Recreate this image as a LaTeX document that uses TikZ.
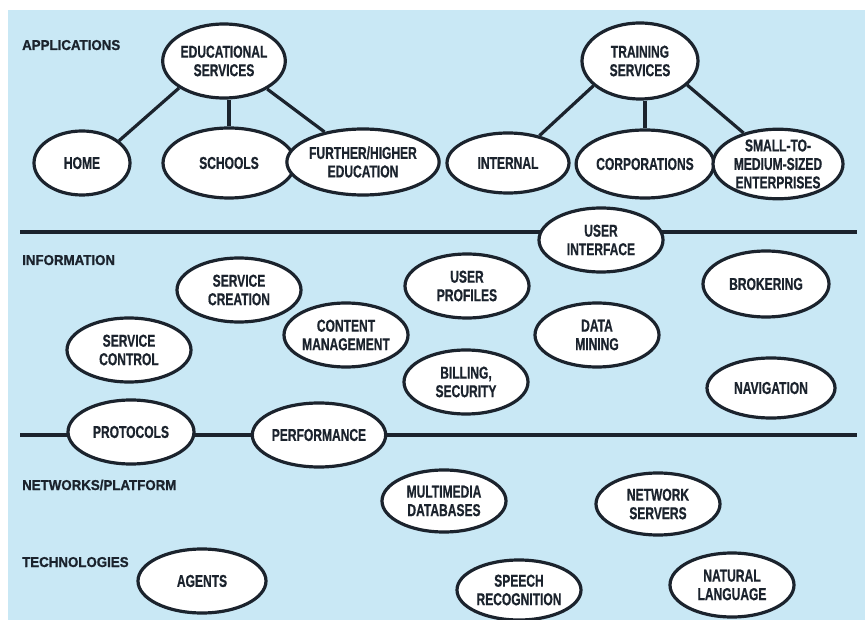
\documentclass[tikz,border=0pt]{standalone}
\usepackage{fontspec}
\setmainfont{Liberation Sans}
\newfontfamily\lblfont[FakeStretch=0.7,FakeBold=0.6]{Liberation Sans}
\newfontfamily\headfont[FakeStretch=0.93,FakeBold=1.0]{Liberation Sans}
\usetikzlibrary{shapes.geometric}
\definecolor{paper}{HTML}{C9E8F5}
\definecolor{ink}{HTML}{1B232D}
\pgfdeclarelayer{backmost}
\pgfdeclarelayer{back}
\pgfsetlayers{backmost,back,main}
\tikzset{
  bubble/.style={ellipse, draw=ink, fill=white, line width=3.2pt, inner sep=0pt,
    text=ink, align=center, font=\lblfont\bfseries\fontsize{17.2}{18.5}\selectfont},
  heading/.style={anchor=base west, inner sep=0pt, text=ink,
    font=\headfont\bfseries\fontsize{14.3}{16}\selectfont},
  link/.style={draw=ink, line width=3.2pt},
  rule/.style={draw=ink, line width=3.4pt}
}
\begin{document}
\begin{tikzpicture}[x=1pt,y=-1pt]
% page and tinted panel
\useasboundingbox (0,0) rectangle (865,620);
\begin{pgfonlayer}{backmost}
  \fill[white] (0,0) rectangle (865,620);
  \fill[paper] (8,10) rectangle (865,620);
\end{pgfonlayer}

% layer headings
\node[heading] (hApp)  at (22,50)  {APPLICATIONS};
\node[heading] (hInf)  at (22,265) {INFORMATION};
\node[heading] (hNet)  at (22,490) {NETWORKS/PLATFORM};
\node[heading] (hTech) at (22,567) {TECHNOLOGIES};

% applications
\node[bubble, minimum width=114pt, minimum height=74pt] (edu)      at (224,61)  {EDUCATIONAL\\SERVICES};
\node[bubble, minimum width=96pt,  minimum height=64pt] (home)     at (82,163)  {HOME};
\node[bubble, minimum width=132pt, minimum height=70pt] (schools)  at (229,163) {SCHOOLS};
\node[bubble, minimum width=122pt, minimum height=66pt] (further)  at (363,162) {FURTHER/HIGHER\\EDUCATION};
\node[bubble, minimum width=116pt, minimum height=76pt] (training) at (640,61)  {TRAINING\\SERVICES};
\node[bubble, minimum width=122pt, minimum height=60pt] (internal) at (508,163) {INTERNAL};
\node[bubble, minimum width=124pt, minimum height=68pt] (corp)     at (645,164) {CORPORATIONS};
\node[bubble, minimum width=130pt, minimum height=66pt] (sme)      at (778,164) {SMALL-TO-\\MEDIUM-SIZED\\ENTERPRISES};

% information
\node[bubble, minimum width=124pt, minimum height=64pt] (userif)     at (601,240) {USER\\INTERFACE};
\node[bubble, minimum width=124pt, minimum height=64pt] (screation)  at (239,290) {SERVICE\\CREATION};
\node[bubble, minimum width=124pt, minimum height=64pt] (scontrol)   at (129,350) {SERVICE\\CONTROL};
\node[bubble, minimum width=124pt, minimum height=64pt] (content)    at (346,335) {CONTENT\\MANAGEMENT};
\node[bubble, minimum width=124pt, minimum height=64pt] (uprofiles)  at (467,286) {USER\\PROFILES};
\node[bubble, minimum width=126pt, minimum height=66pt] (brokering)  at (766,284) {BROKERING};
\node[bubble, minimum width=124pt, minimum height=64pt] (datamining) at (597,335) {DATA\\MINING};
\node[bubble, minimum width=124pt, minimum height=64pt] (billing)    at (466,382) {BILLING,\\SECURITY};
\node[bubble, minimum width=128pt, minimum height=60pt] (navigation) at (771,388) {NAVIGATION};
\node[bubble, minimum width=126pt, minimum height=64pt] (protocols)  at (131,432) {PROTOCOLS};
\node[bubble, minimum width=126pt, minimum height=64pt] (performance) at (319,435) {PERFORMANCE};

% networks / platform
\node[bubble, minimum width=124pt, minimum height=62pt] (multimedia) at (444,501) {MULTIMEDIA\\DATABASES};
\node[bubble, minimum width=124pt, minimum height=62pt] (netservers) at (658,504) {NETWORK\\SERVERS};

% technologies
\node[bubble, minimum width=128pt, minimum height=64pt] (agents)  at (202,581) {AGENTS};
\node[bubble, minimum width=124pt, minimum height=60pt] (speech)  at (519,590) {SPEECH\\RECOGNITION};
\node[bubble, minimum width=124pt, minimum height=64pt] (natural) at (732,585) {NATURAL\\LANGUAGE};

% layer dividers and tree links, kept behind the bubbles
\coordinate (r1a) at (20,232);
\coordinate (r1b) at (857,232);
\coordinate (r2a) at (20,435);
\coordinate (r2b) at (857,435);
\begin{pgfonlayer}{back}
  \draw[rule] (r1a) -- (r1b);
  \draw[rule] (r2a) -- (r2b);
  \draw[link] (edu.211) -- (home.31);
  \draw[link] (schools.north) -- (schools.north |- edu.south);
  \draw[link] (edu.327) -- (further.142);
  \draw[link] (training.208) -- (internal.41);
  \draw[link] (corp.north) -- (corp.north |- training.south);
  \draw[link] (training.333) -- (sme.138);
\end{pgfonlayer}
\end{tikzpicture}
\end{document}
